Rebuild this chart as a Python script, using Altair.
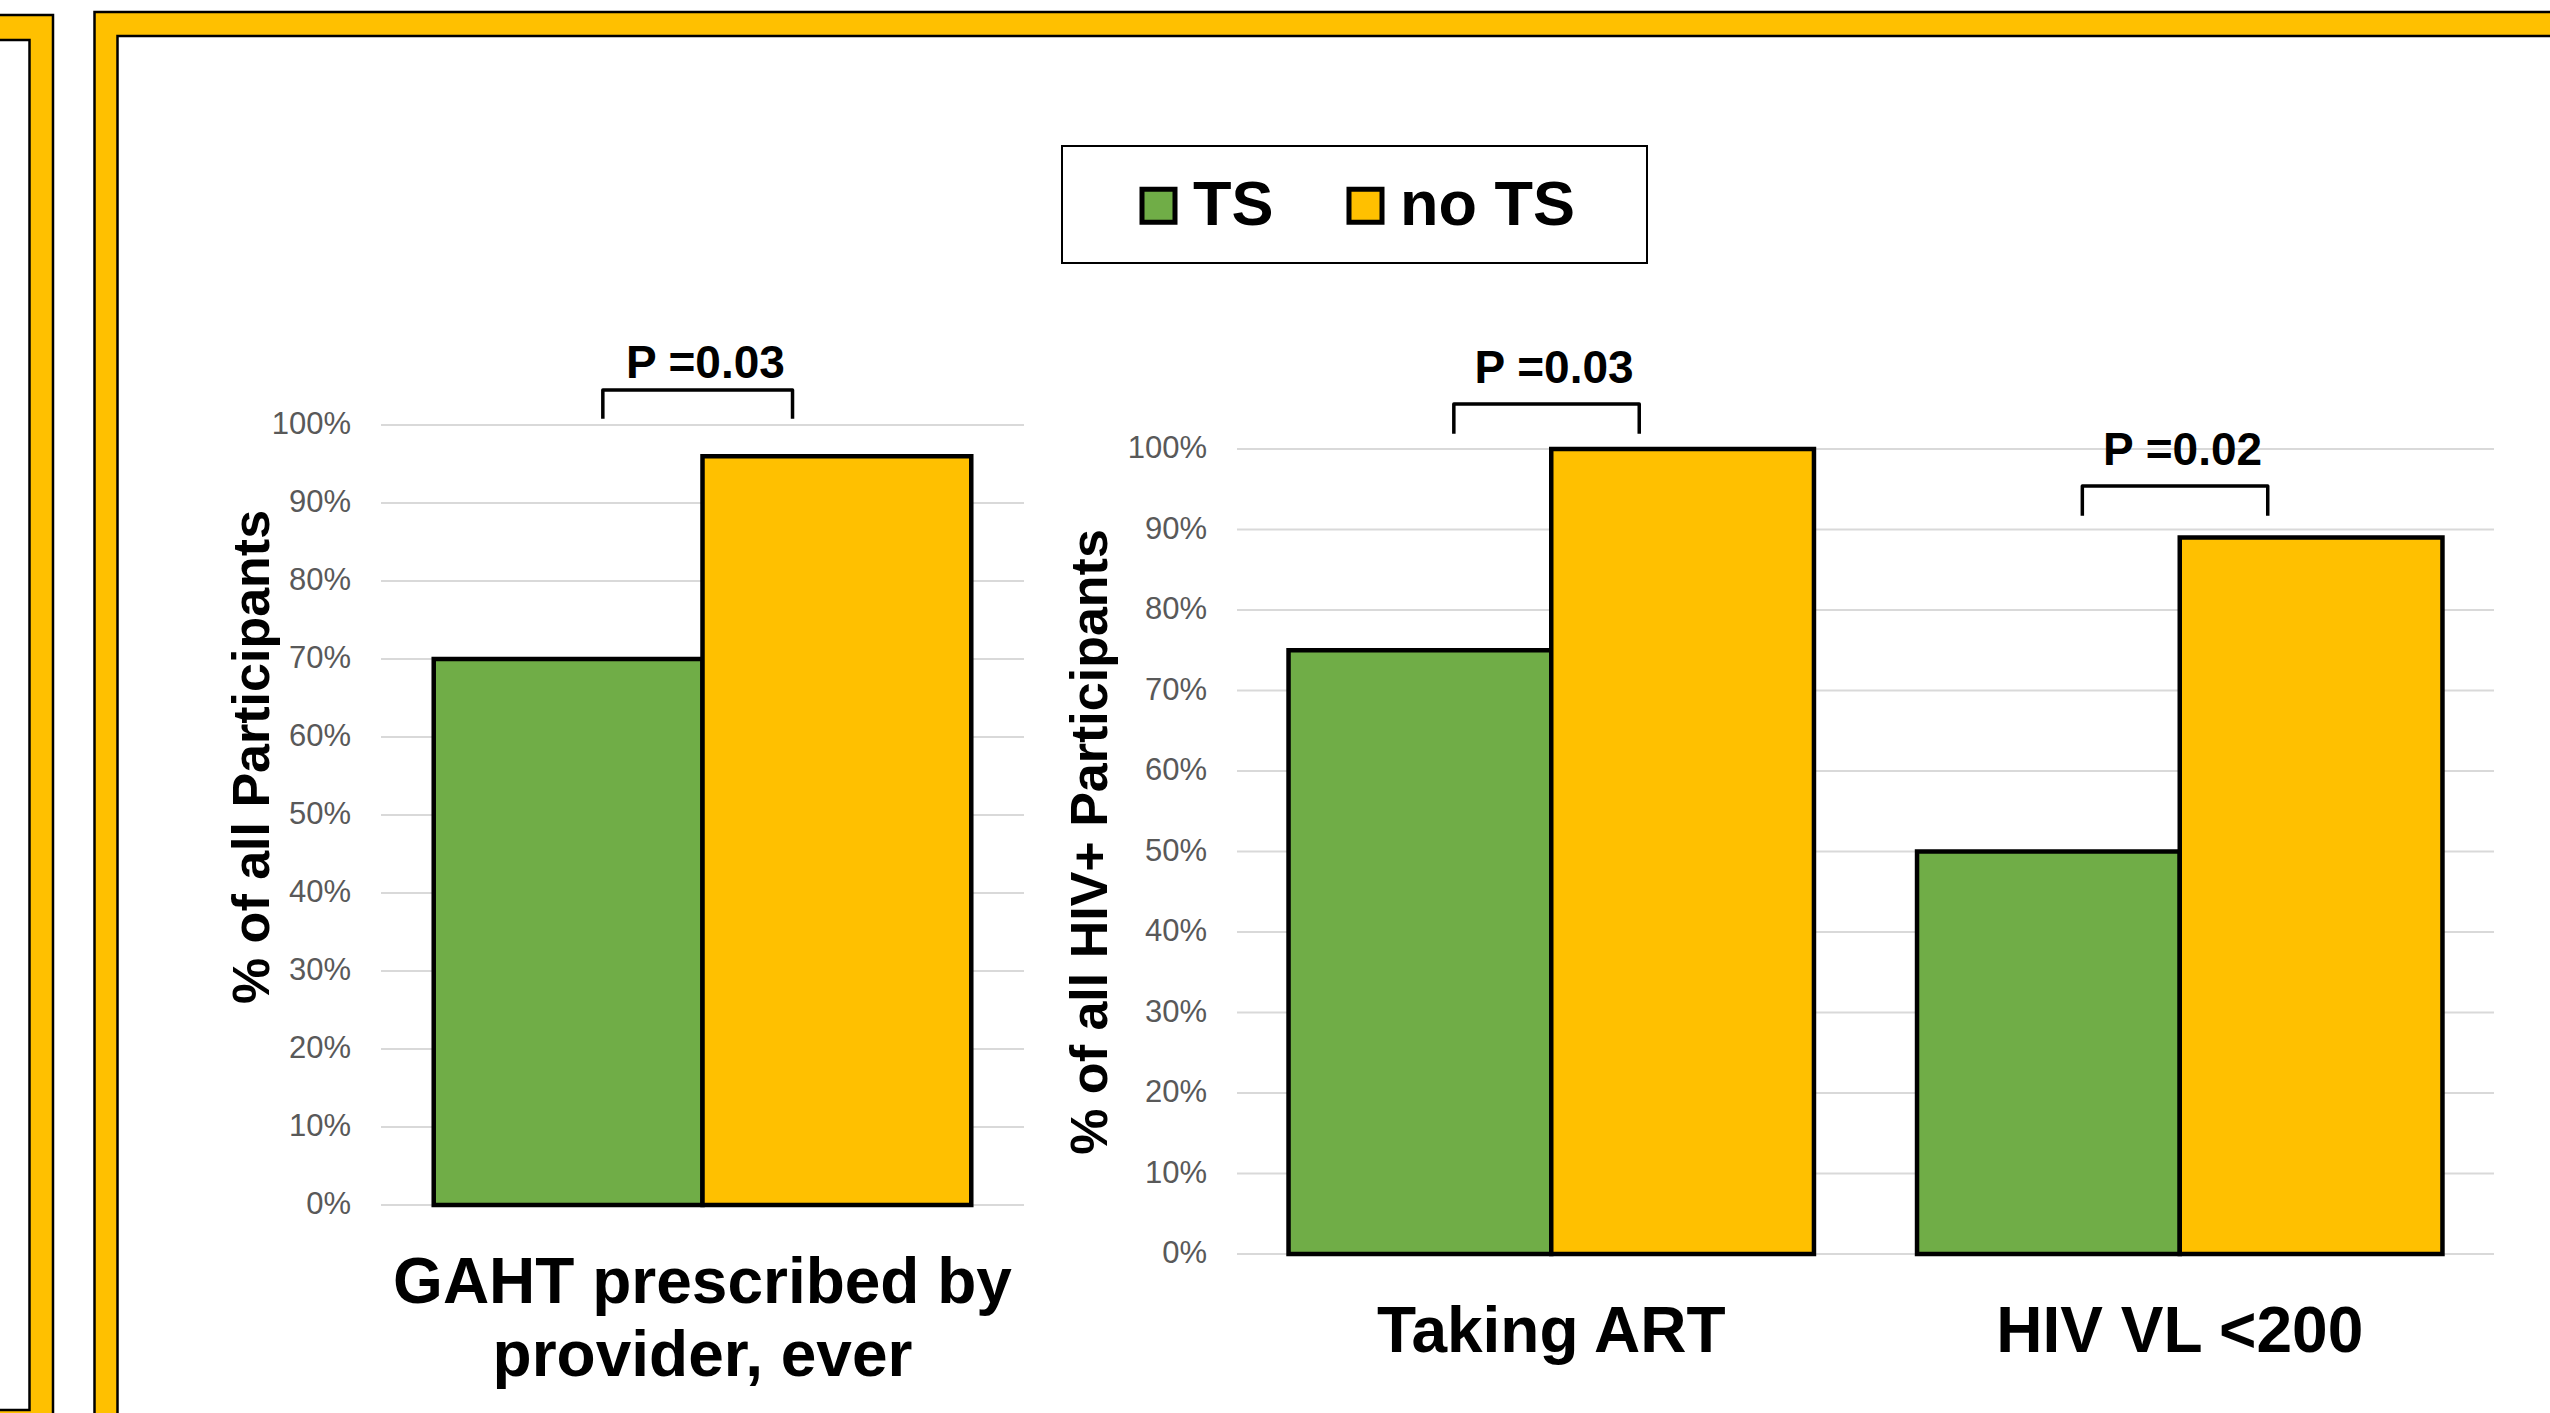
import altair as alt
import pandas as pd

# ---------------- data ----------------
groups = ["TS", "no TS"]
group_colors = ["#70AD47", "#FFC000"]

left_categories = ["GAHT prescribed by\nprovider, ever"]
left_ts = [70]
left_no_ts = [96]
left_p_values = ["P =0.03"]
left_bracket_levels = [100.8]
left_y_title = "% of all Participants"

right_categories = ["Taking ART", "HIV VL <200"]
right_ts = [75, 50]
right_no_ts = [100, 89]
right_p_values = ["P =0.03", "P =0.02"]
right_bracket_levels = [101.9, 91.7]
right_y_title = "% of all  HIV+ Participants"

y_tick_values = list(range(0, 101, 10))

# ---------------- style ----------------
W, H = 2550, 1413
FONT = "Liberation Sans"
BLACK = "#000000"
GOLD = "#FFC000"
GRID = "#D9D9D9"
TICK_GREY = "#595959"
BAR_W = 0.418          # width of one bar, as a fraction of a category slot
BR_LEFT, BR_RIGHT = -0.155, 0.14
BR_H = 3.7             # bracket leg height, in % units


def panel(categories, ts, no_ts, p_values, levels, y_title,
          x_range, y_range, title_dx, title_y, p_gap):
    n = len(categories)
    bar_df = pd.DataFrame({
        "idx": [i for i in range(n) for _ in groups],
        "category": [c for c in categories for _ in groups],
        "group": groups * n,
        "value": [v for pair in zip(ts, no_ts) for v in pair],
    })
    cat_df = pd.DataFrame({"idx": list(range(n)), "category": categories})
    ann_df = pd.DataFrame({"idx": list(range(n)), "p": p_values, "level": levels})
    tick_df = pd.DataFrame({"tick": y_tick_values})
    br_rows = []
    for i, lvl in zip(range(n), levels):
        for k, (dx, dy) in enumerate([(BR_LEFT, 0.0), (BR_LEFT, BR_H),
                                      (BR_RIGHT, BR_H), (BR_RIGHT, 0.0)]):
            br_rows.append({"idx": i, "k": k, "bx": i + dx, "by": lvl + dy})
    br_df = pd.DataFrame(br_rows)

    xs = alt.Scale(domain=[-0.5, n - 0.5], range=x_range, nice=False, zero=False)
    ys = alt.Scale(domain=[0, 100], range=y_range, nice=False, zero=False)
    x_start = alt.XDatum(-0.5, type="quantitative", scale=xs, axis=None)

    # horizontal grid lines (y axis grid)
    grid = alt.Chart(tick_df).mark_rule(color=GRID, strokeWidth=2).encode(
        x=x_start,
        x2=alt.X2Datum(n - 0.5),
        y=alt.Y("tick:Q", scale=ys, axis=None),
    )
    # y tick labels
    tick_labels = alt.Chart(tick_df).transform_calculate(
        label="datum.tick + '%'"
    ).mark_text(
        font=FONT, fontSize=31, color=TICK_GREY, align="right", baseline="middle", dx=-30,
    ).encode(
        x=x_start,
        y=alt.Y("tick:Q", scale=ys, axis=None),
        text="label:N",
    )
    # y axis title
    y_title_mark = alt.Chart(alt.Data(values=[{"title": y_title}])).mark_text(
        font=FONT, fontSize=52, fontWeight="bold", color=BLACK, angle=270,
        align="center", baseline="alphabetic", dy=title_dx,
    ).encode(
        x=x_start,
        y=alt.value(title_y),
        text="title:N",
    )
    legend = alt.Legend(
        orient="none", legendX=1127, legendY=174, direction="horizontal", title=None,
        symbolType="square", symbolSize=1089, symbolStrokeColor=BLACK,
        symbolStrokeWidth=5, symbolOpacity=1, labelFont=FONT, labelFontSize=63,
        labelFontWeight="bold", labelColor=BLACK, labelOffset=3, columnPadding=60,
        padding=0, labelLimit=600,
    )
    bars = alt.Chart(bar_df).transform_calculate(
        x0=f"datum.idx + (datum.group == 'TS' ? {-BAR_W} : 0)",
        x1=f"datum.idx + (datum.group == 'TS' ? 0 : {BAR_W})",
    ).mark_rect(stroke=BLACK, strokeWidth=4.5).encode(
        x=alt.X("x0:Q", scale=xs, axis=None),
        x2="x1:Q",
        y=alt.Y("value:Q", scale=ys, axis=None, stack=None),
        y2=alt.YDatum(0),
        color=alt.Color("group:N", scale=alt.Scale(domain=groups, range=group_colors),
                        legend=legend),
    )
    # category labels under the bars
    cat_labels = alt.Chart(cat_df).mark_text(
        font=FONT, fontSize=64, fontWeight="bold", color=BLACK, align="center",
        baseline="top", lineBreak="\n", lineHeight=73, dy=47,
    ).encode(
        x=alt.X("idx:Q", scale=xs, axis=None),
        y=alt.YDatum(0, type="quantitative", scale=ys, axis=None),
        text="category:N",
    )
    brackets = alt.Chart(br_df).mark_line(
        color=BLACK, strokeWidth=3.5, strokeJoin="round"
    ).encode(
        x=alt.X("bx:Q", scale=xs, axis=None),
        y=alt.Y("by:Q", scale=ys, axis=None),
        detail="idx:N",
        order="k:Q",
    )
    texts = alt.Chart(ann_df).transform_calculate(
        tx=f"datum.idx + {(BR_LEFT + BR_RIGHT) / 2 + 0.012}",
        ty=f"datum.level + {BR_H}",
    ).mark_text(
        font=FONT, fontSize=46, fontWeight="bold", color=BLACK, align="center",
        baseline="alphabetic", dy=-p_gap,
    ).encode(
        x=alt.X("tx:Q", scale=xs, axis=None),
        y=alt.Y("ty:Q", scale=ys, axis=None),
        text="p:N",
    )
    return alt.layer(grid, bars, brackets, texts, tick_labels, y_title_mark, cat_labels)


def deco_rect(x, x2, y, y2, fill, fill_opacity=1, stroke=BLACK, sw=0):
    return alt.Chart(alt.Data(values=[{"a": 1}])).mark_rect(
        fill=fill, fillOpacity=fill_opacity, stroke=stroke, strokeWidth=sw
    ).encode(x=alt.value(x), x2=alt.value(x2), y=alt.value(y), y2=alt.value(y2))


decor = [
    # left (neighbouring) poster frame
    deco_rect(-10, 53, 15, 1430, GOLD, 1, BLACK, 2.5),
    deco_rect(-10, 29.5, 40, 1410, "#FFFFFF", 1, BLACK, 2.5),
    # main poster frame: gold strips + black outlines
    deco_rect(94.5, 2570, 12, 36, GOLD),
    deco_rect(94.5, 117.5, 12, 1430, GOLD),
    deco_rect(94.5, 2570, 12, 1430, "#FFFFFF", 0, BLACK, 2.5),
    deco_rect(117.5, 2570, 36, 1430, "#FFFFFF", 0, BLACK, 2.5),
    # legend box
    deco_rect(1062, 1647, 146, 263, "#FFFFFF", 1, BLACK, 2),
]

left_panel = panel(left_categories, left_ts, left_no_ts, left_p_values,
                   left_bracket_levels, left_y_title,
                   [381, 1024], [1205, 425], -112, 757, 12)
right_panel = panel(right_categories, right_ts, right_no_ts, right_p_values,
                    right_bracket_levels, right_y_title,
                    [1237, 2494], [1254, 449], -130, 842, 21)

chart = alt.layer(*decor, left_panel, right_panel).resolve_scale(
    x="independent", y="independent"
).properties(
    width=W, height=H, padding=0, background="white",
    autosize=alt.AutoSizeParams(type="none"),
).configure_view(stroke="transparent")

chart.save("out.html", embed_options={"renderer": "svg", "actions": False})
